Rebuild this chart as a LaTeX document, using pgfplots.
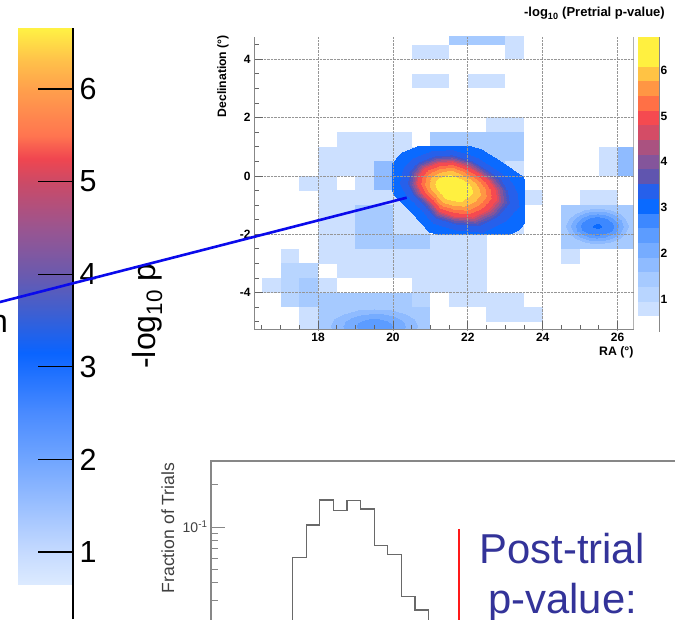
\documentclass[border=0pt]{standalone}
\usepackage{pgfplots}
\pgfplotsset{compat=1.18}
\usepackage{fontspec}
\setmainfont{Liberation Sans}

\definecolor{txtblue}{RGB}{51,51,153}
\definecolor{linblue}{RGB}{10,10,235}
\definecolor{histgray}{RGB}{105,105,105}
\definecolor{framegray}{RGB}{135,135,135}
\definecolor{tickgray}{RGB}{100,100,100}
\definecolor{gridgray}{RGB}{150,150,150}

\pgfdeclareplotmark{cell}{\pgfpathrectangle{\pgfqpoint{-9.42pt}{-7.35pt}}{\pgfqpoint{18.84pt}{14.7pt}}\pgfusepathqfill}
\pgfdeclareplotmark{cbcell}{\pgfpathrectangle{\pgfqpoint{-10.5pt}{-7.4pt}}{\pgfqpoint{21pt}{14.8pt}}\pgfusepathqfill}

\pgfplotsset{
 colormap={roo}{rgb255=(204,224,255) rgb255=(184,213,255) rgb255=(166,202,255) rgb255=(143,187,255) rgb255=(118,172,255) rgb255=(92,156,255) rgb255=(61,136,255) rgb255=(10,106,255) rgb255=(38,96,235) rgb255=(62,86,205) rgb255=(96,85,175) rgb255=(132,85,155) rgb255=(170,82,128) rgb255=(212,76,102) rgb255=(245,74,80) rgb255=(255,112,70) rgb255=(255,150,68) rgb255=(255,195,68) rgb255=(255,240,64) rgb255=(255,240,64)},
 colormap={big}{rgb255(0.64cm)=(221,235,255) rgb255(1cm)=(197,218,255) rgb255(2cm)=(112,165,255) rgb255(2.5cm)=(74,139,255) rgb255(3.15cm)=(10,100,255) rgb255(3.6cm)=(63,95,208) rgb255(4cm)=(107,90,174) rgb255(4.5cm)=(154,85,144) rgb255(5cm)=(204,74,102) rgb255(5.25cm)=(240,70,80) rgb255(5.5cm)=(255,117,80) rgb255(6cm)=(255,160,76) rgb255(6.3cm)=(255,192,74) rgb255(6.66cm)=(255,242,68)},
}

\newcommand{\tlf}{\fontsize{12}{14}\selectfont\bfseries}

\begin{document}
\begin{tikzpicture}
\path[use as bounding box] (0,0) rectangle (675pt,619pt);
\clip (0,0) rectangle (675pt,619pt);

% ---------- big colour bar (left) ----------
\begin{axis}[at={(18pt,0pt)}, anchor=south west, scale only axis,
  width=55pt, height=591.1pt, xmin=0, xmax=1, ymin=0.2765, ymax=6.66,
  axis x line=none, axis y line*=right,
  y axis line style={black, line width=1.3pt},
  ytick={1,2,3,4,5,6}, yticklabels={1,2,3,4,5,6},
  tick align=inside, major tick length=35pt,
  tick style={black, line width=1.3pt},
  yticklabel style={font=\fontsize{30.5}{32}\selectfont, inner sep=0pt, xshift=6.5pt},
  axis on top, colormap name=big, point meta min=0.64, point meta max=6.66]
\addplot[surf, shader=interp, point meta=y, mesh/cols=2] table {
x y
0 0.644
1 0.644
0 6.66
1 6.66
};
\end{axis}

% ---------- sky map: coarse cells and smooth sub-blobs ----------
\begin{axis}[at={(254pt,289pt)}, anchor=south west, scale only axis,
  width=379.7pt, height=293.3pt, xmin=16.29, xmax=26.43, ymin=-5.28, ymax=4.77,
  hide axis, clip marker paths=true,
  colormap name=roo, colormap access=piecewise constant,
  point meta min=0.63, point meta max=6.72]
\addplot[scatter, only marks, mark=cell, scatter src=explicit] table[meta=v] {
x y v
21.75 4.75 1.43
22.25 4.75 1.43
22.75 4.75 1.43
23.25 4.75 0.79
20.75 4.25 0.79
21.25 4.25 0.79
23.25 4.25 0.79
20.75 3.25 0.79
21.25 3.25 0.79
22.25 3.25 0.79
22.75 3.25 0.79
22.75 1.75 0.79
23.25 1.75 0.79
18.75 1.25 0.79
19.25 1.25 0.79
19.75 1.25 0.79
20.25 1.25 0.79
21.25 1.25 1.43
21.75 1.25 1.43
22.25 1.25 1.43
22.75 1.25 1.43
23.25 1.25 1.43
18.25 0.75 0.79
18.75 0.75 0.79
19.25 0.75 0.79
19.75 0.75 0.79
20.25 0.75 0.79
20.75 0.75 0.79
21.25 0.75 1.43
21.75 0.75 1.43
22.25 0.75 1.43
22.75 0.75 1.43
23.25 0.75 1.43
25.75 0.75 0.79
26.25 0.75 1.75
18.25 0.25 0.79
18.75 0.25 0.79
19.25 0.25 0.79
19.75 0.25 1.75
20.25 0.25 0.79
22.75 0.25 1.43
23.25 0.25 0.79
25.75 0.25 0.79
26.25 0.25 1.75
17.75 -0.25 0.79
18.25 -0.25 0.79
19.25 -0.25 0.79
19.75 -0.25 1.75
20.25 -0.25 0.79
23.25 -0.25 0.79
18.25 -0.75 0.79
18.75 -0.75 0.79
19.25 -0.75 0.79
19.75 -0.75 0.79
20.25 -0.75 0.79
23.25 -0.75 0.79
23.75 -0.75 0.79
25.25 -0.75 0.79
25.75 -0.75 0.79
18.25 -1.25 0.79
18.75 -1.25 0.79
19.25 -1.25 1.43
19.75 -1.25 1.43
20.25 -1.25 0.79
20.75 -1.25 0.79
23.25 -1.25 0.79
24.75 -1.25 1.43
25.25 -1.25 1.43
25.75 -1.25 1.43
26.25 -1.25 1.43
18.25 -1.75 0.79
18.75 -1.75 0.79
19.25 -1.75 1.43
19.75 -1.75 1.43
20.25 -1.75 0.79
20.75 -1.75 0.79
23.25 -1.75 0.79
24.75 -1.75 1.43
25.25 -1.75 1.43
25.75 -1.75 1.43
26.25 -1.75 1.43
18.25 -2.25 0.79
18.75 -2.25 0.79
19.25 -2.25 1.43
19.75 -2.25 1.43
20.25 -2.25 1.43
20.75 -2.25 1.43
21.25 -2.25 0.79
21.75 -2.25 0.79
22.25 -2.25 0.79
24.75 -2.25 1.43
25.25 -2.25 1.43
25.75 -2.25 1.43
26.25 -2.25 1.43
17.25 -2.75 0.79
18.25 -2.75 0.79
18.75 -2.75 0.79
19.25 -2.75 0.79
19.75 -2.75 0.79
20.25 -2.75 0.79
20.75 -2.75 0.79
21.25 -2.75 0.79
21.75 -2.75 0.79
22.25 -2.75 0.79
24.75 -2.75 0.79
17.25 -3.25 1.11
17.75 -3.25 1.11
18.75 -3.25 0.79
19.25 -3.25 0.79
19.75 -3.25 0.79
20.25 -3.25 0.79
20.75 -3.25 0.79
21.25 -3.25 0.79
21.75 -3.25 0.79
22.25 -3.25 0.79
16.75 -3.75 0.79
17.25 -3.75 1.11
17.75 -3.75 1.43
18.25 -3.75 0.79
20.75 -3.75 0.79
21.25 -3.75 0.79
21.75 -3.75 0.79
22.25 -3.75 0.79
17.25 -4.25 1.11
17.75 -4.25 1.43
18.25 -4.25 1.43
18.75 -4.25 1.43
19.25 -4.25 1.43
19.75 -4.25 1.43
20.25 -4.25 1.43
20.75 -4.25 1.11
21.75 -4.25 0.79
22.25 -4.25 0.79
22.75 -4.25 0.79
23.25 -4.25 0.79
17.75 -4.75 0.79
18.25 -4.75 1.43
18.75 -4.75 1.43
19.25 -4.75 1.43
19.75 -4.75 1.43
20.25 -4.75 1.43
20.75 -4.75 1.43
22.75 -4.75 0.79
23.25 -4.75 0.79
23.75 -4.75 0.79
17.75 -5.25 0.79
18.25 -5.25 1.43
18.75 -5.25 1.43
19.25 -5.25 1.43
19.75 -5.25 1.43
20.25 -5.25 1.43
20.75 -5.25 1.43
};
% right sub-blob
\addplot[surf, shader=interp, point meta=explicit, mesh/cols=17] table[meta=v] {
x y v
25.45 -1.72 2.85
25.45 -1.72 2.85
25.45 -1.72 2.85
25.45 -1.72 2.85
25.45 -1.72 2.85
25.45 -1.72 2.85
25.45 -1.72 2.85
25.45 -1.72 2.85
25.45 -1.72 2.85
25.45 -1.72 2.85
25.45 -1.72 2.85
25.45 -1.72 2.85
25.45 -1.72 2.85
25.45 -1.72 2.85
25.45 -1.72 2.85
25.45 -1.72 2.85
25.45 -1.72 2.85
25.875 -1.72 2.5
25.843 -1.601 2.5
25.750 -1.501 2.5
25.613 -1.434 2.5
25.45 -1.41 2.5
25.287 -1.434 2.5
25.150 -1.501 2.5
25.057 -1.601 2.5
25.025 -1.72 2.5
25.057 -1.839 2.5
25.150 -1.939 2.5
25.287 -2.006 2.5
25.45 -2.03 2.5
25.613 -2.006 2.5
25.750 -1.939 2.5
25.843 -1.839 2.5
25.875 -1.72 2.5
26.30 -1.72 1.5
26.235 -1.483 1.5
26.051 -1.282 1.5
25.776 -1.147 1.5
25.45 -1.10 1.5
25.124 -1.147 1.5
24.849 -1.282 1.5
24.665 -1.483 1.5
24.60 -1.72 1.5
24.665 -1.957 1.5
24.849 -2.158 1.5
25.124 -2.293 1.5
25.45 -2.34 1.5
25.776 -2.293 1.5
26.051 -2.158 1.5
26.235 -1.957 1.5
26.30 -1.72 1.5
};
% bottom sub-blob
\addplot[surf, shader=interp, point meta=explicit, mesh/cols=17] table[meta=v] {
x y v
19.5 -5.15 2.45
19.5 -5.15 2.45
19.5 -5.15 2.45
19.5 -5.15 2.45
19.5 -5.15 2.45
19.5 -5.15 2.45
19.5 -5.15 2.45
19.5 -5.15 2.45
19.5 -5.15 2.45
19.5 -5.15 2.45
19.5 -5.15 2.45
19.5 -5.15 2.45
19.5 -5.15 2.45
19.5 -5.15 2.45
19.5 -5.15 2.45
19.5 -5.15 2.45
19.5 -5.15 2.45
20.075 -5.15 2.1
20.031 -5.035 2.1
19.907 -4.938 2.1
19.720 -4.873 2.1
19.5 -4.85 2.1
19.280 -4.873 2.1
19.093 -4.938 2.1
18.969 -5.035 2.1
18.925 -5.15 2.1
18.969 -5.265 2.1
19.093 -5.362 2.1
19.280 -5.427 2.1
19.5 -5.45 2.1
19.720 -5.427 2.1
19.907 -5.362 2.1
20.031 -5.265 2.1
20.075 -5.15 2.1
20.65 -5.15 1.55
20.563 -4.92 1.55
20.313 -4.726 1.55
19.940 -4.596 1.55
19.5 -4.55 1.55
19.060 -4.596 1.55
18.687 -4.726 1.55
18.437 -4.92 1.55
18.35 -5.15 1.55
18.437 -5.38 1.55
18.687 -5.574 1.55
19.060 -5.704 1.55
19.5 -5.75 1.55
19.940 -5.704 1.55
20.313 -5.574 1.55
20.563 -5.38 1.55
20.65 -5.15 1.55
};
\end{axis}

% ---------- sky map: fine-scan box (main hot spot) ----------
\begin{axis}[at={(392.94pt,384.71pt)}, anchor=south west, scale only axis,
  width=131.08pt, height=87.55pt, xmin=20, xmax=23.5, ymin=-2, ymax=1,
  hide axis, colormap name=roo, colormap access=piecewise constant,
  point meta min=0.63, point meta max=6.72]
\addplot[surf, shader=interp, point meta=explicit, mesh/cols=17] table[meta=v] {
x y v
21.55 -0.38 6.75
21.55 -0.38 6.75
21.55 -0.38 6.75
21.55 -0.38 6.75
21.55 -0.38 6.75
21.55 -0.38 6.75
21.55 -0.38 6.75
21.55 -0.38 6.75
21.55 -0.38 6.75
21.55 -0.38 6.75
21.55 -0.38 6.75
21.55 -0.38 6.75
21.55 -0.38 6.75
21.55 -0.38 6.75
21.55 -0.38 6.75
21.55 -0.38 6.75
21.55 -0.38 6.75
21.924 -0.409 6.40
21.873 -0.315 6.40
21.780 -0.234 6.40
21.686 -0.159 6.40
21.559 -0.111 6.40
21.440 -0.120 6.40
21.329 -0.176 6.40
21.278 -0.247 6.40
21.261 -0.349 6.40
21.295 -0.434 6.40
21.372 -0.533 6.40
21.448 -0.642 6.40
21.576 -0.689 6.40
21.729 -0.706 6.40
21.856 -0.630 6.40
21.933 -0.519 6.40
21.924 -0.409 6.40
22.386 -0.445 5.70
22.272 -0.236 5.70
22.063 -0.053 5.70
21.854 0.114 5.70
21.569 0.220 5.70
21.303 0.201 5.70
21.056 0.076 5.70
20.942 -0.084 5.70
20.904 -0.312 5.70
20.980 -0.502 5.70
21.151 -0.722 5.70
21.322 -0.965 5.70
21.607 -1.072 5.70
21.949 -1.110 5.70
22.234 -0.939 5.70
22.405 -0.692 5.70
22.386 -0.445 5.70
22.738 -0.472 4.90
22.576 -0.175 4.90
22.279 0.084 4.90
21.982 0.322 4.90
21.577 0.473 4.90
21.199 0.446 4.90
20.848 0.268 4.90
20.686 0.041 4.90
20.632 -0.283 4.90
20.740 -0.553 4.90
20.983 -0.866 4.90
21.226 -1.212 4.90
21.631 -1.363 4.90
22.117 -1.417 4.90
22.522 -1.174 4.90
22.765 -0.823 4.90
22.738 -0.472 4.90
22.914 -0.485 4.00
22.728 -0.144 4.00
22.387 0.153 4.00
22.046 0.426 4.00
21.581 0.600 4.00
21.147 0.569 4.00
20.744 0.364 4.00
20.558 0.104 4.00
20.496 -0.268 4.00
20.620 -0.578 4.00
20.899 -0.938 4.00
21.178 -1.335 4.00
21.643 -1.508 4.00
22.201 -1.570 4.00
22.666 -1.291 4.00
22.945 -0.888 4.00
22.914 -0.485 4.00
23.112 -0.501 3.20
22.899 -0.110 3.20
22.509 0.231 3.20
22.118 0.543 3.20
21.586 0.742 3.20
21.089 0.706 3.20
20.627 0.472 3.20
20.414 0.174 3.20
20.343 -0.252 3.20
20.485 -0.607 3.20
20.805 -1.019 3.20
21.124 -1.473 3.20
21.657 -1.672 3.20
22.296 -1.743 3.20
22.828 -1.424 3.20
23.148 -0.962 3.20
23.112 -0.501 3.20
23.75 -0.55 2.80
23.45 0.0 2.80
22.9 0.48 2.80
22.35 0.92 2.80
21.6 1.2 2.80
20.9 1.15 2.80
20.25 0.82 2.80
19.95 0.4 2.80
19.85 -0.2 2.80
20.05 -0.7 2.80
20.5 -1.28 2.80
20.95 -1.92 2.80
21.7 -2.2 2.80
22.6 -2.3 2.80
23.35 -1.85 2.80
23.8 -1.2 2.80
23.75 -0.55 2.80
};
\end{axis}

% ---------- sky map: frame, ticks, grid ----------
\begin{axis}[at={(254pt,289pt)}, anchor=south west, scale only axis,
  width=379.7pt, height=293.3pt, xmin=16.29, xmax=26.43, ymin=-5.28, ymax=4.77,
  axis lines*=left, axis line style={framegray, line width=1pt},
  xtick={18,20,22,24,26}, xticklabels={18,20,22,24,26},
  minor xtick={16.5,17,...,26},
  ytick={-4,-2,0,2,4}, yticklabels={-4,-2,0,2,4},
  minor ytick={-5,-4.5,...,4.5},
  tick align=inside, major tick length=9pt, minor tick length=5pt,
  tick style={tickgray, line width=0.8pt},
  grid=major, major grid style={densely dotted, gridgray, line width=0.8pt},
  xticklabel style={font=\tlf}, yticklabel style={font=\tlf}]
\draw[framegray, line width=1pt] (rel axis cs:1,0) -- (rel axis cs:1,1);
\end{axis}

% ---------- small colour bar ----------
\begin{axis}[at={(638.3pt,287pt)}, anchor=south west, scale only axis,
  width=21pt, height=294.9pt, xmin=0, xmax=1, ymin=0.29, ymax=6.72,
  axis x line=none, axis y line*=right,
  y axis line style={framegray, line width=1pt},
  ytick={1,2,3,4,5,6}, yticklabels={1,2,3,4,5,6},
  tick align=inside, major tick length=11pt,
  tick style={tickgray, line width=0.8pt},
  yticklabel style={font=\tlf, inner sep=1pt},
  axis on top, clip=false,
  colormap name=roo, colormap access=piecewise constant,
  point meta min=0.63, point meta max=6.72]
\addplot[scatter, only marks, mark=cbcell, scatter src=explicit] table[meta=v] {
x y v
0.5 0.790 0.790
0.5 1.111 1.111
0.5 1.431 1.431
0.5 1.752 1.752
0.5 2.072 2.072
0.5 2.393 2.393
0.5 2.713 2.713
0.5 3.034 3.034
0.5 3.354 3.354
0.5 3.675 3.675
0.5 3.995 3.995
0.5 4.316 4.316
0.5 4.636 4.636
0.5 4.957 4.957
0.5 5.277 5.277
0.5 5.598 5.598
0.5 5.918 5.918
0.5 6.239 6.239
0.5 6.559 6.559
};
\end{axis}

% ---------- trial histogram ----------
\begin{axis}[at={(211pt,-48pt)}, anchor=south west, scale only axis,
  width=544pt, height=205.98pt, xmin=0, xmax=40,
  ymode=log, ymin=0.01, ymax=0.296,
  axis line style={framegray, line width=1.2pt},
  xtick=\empty, ytick={0.1}, yticklabels={10\textsuperscript{-1}},
  minor ytick={0.02,0.03,0.04,0.05,0.06,0.07,0.08,0.09,0.2},
  ytick pos=left, tick align=inside, major tick length=14pt, minor tick length=7pt,
  tick style={framegray, line width=1pt},
  yticklabel style={font=\fontsize{14}{16}\selectfont, text=black!75}]
\addplot[const plot, histgray, line width=1.3pt] coordinates {
(6,0.001) (6,0.0608) (7,0.1033) (8,0.156) (9,0.1307) (10,0.154) (11,0.1345)
(12,0.0735) (13,0.0638) (14,0.0318) (15,0.0255) (16,0.012) (17,0.006) (18,0.003)};
\addplot[red!90!white, line width=1.5pt] coordinates {(18.24,0.097) (18.24,0.002)};
\end{axis}

% ---------- texts ----------
\node[rotate=90, anchor=base, font=\fontsize{32}{34}\selectfont] at (155pt,303pt) {-log\textsubscript{10} p};
\node[anchor=base east, inner sep=0pt, font=\fontsize{32}{34}\selectfont] at (8pt,286pt) {n};
\node[anchor=base east, inner sep=0pt, font=\fontsize{13}{15}\selectfont\bfseries] at (665pt,602pt) {-log\textsubscript{10} (Pretrial p-value)};
\node[rotate=90, anchor=base east, inner sep=0pt, font=\fontsize{12.2}{14}\selectfont\bfseries] at (226pt,584pt) {Declination (°)};
\node[anchor=base east, inner sep=0pt, font=\fontsize{12.3}{14}\selectfont\bfseries] at (633.7pt,263pt) {RA (°)};
\node[rotate=90, anchor=base, inner sep=0pt, text=black!75, font=\fontsize{17.6}{19}\selectfont] at (174pt,91pt) {Fraction of Trials};
\node[anchor=base, inner sep=0pt, text=txtblue, font=\fontsize{41.8}{46}\selectfont] at (562pt,56pt) {Post-trial};
\node[anchor=base, inner sep=0pt, text=txtblue, font=\fontsize{41.8}{46}\selectfont] at (562.7pt,6pt) {p-value:};

% ---------- pointer line ----------
\draw[linblue, line width=2.6pt] (-5pt,315.7pt) -- (406.7pt,421.3pt);
\end{tikzpicture}
\end{document}
